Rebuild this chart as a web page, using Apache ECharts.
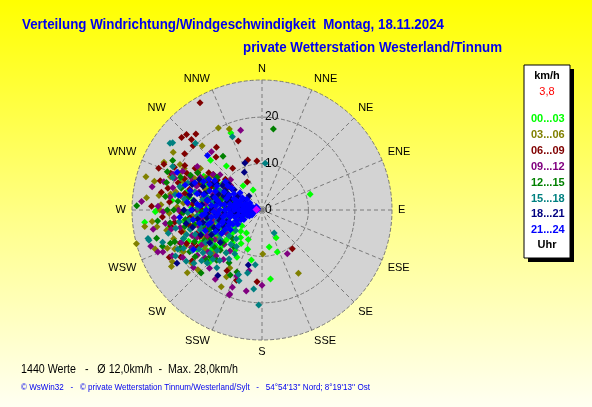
<!DOCTYPE html>
<html><head><meta charset="utf-8">
<script src="https://cdn.jsdelivr.net/npm/echarts@6/dist/echarts.min.js"></script>
<style>html,body{margin:0;padding:0;background:#ffff80}#c{width:592px;height:407px}</style>
</head><body><div id="c"></div>
<script>
// ---- data ----
const dirLabels = ['N','NNE','NE','ENE','E','ESE','SE','SSE','S','SSW','SW','WSW','W','WNW','NW','NNW'];
const timeGroups = ['00...03','03...06','06...09','09...12','12...15','15...18','18...21','21...24'];
const radiusMax = 28;
const radiusStep = 10;
const currentSpeed = '3,8';
const infoLine = '1440 Werte   -   \u00D8 12,0km/h  -  Max. 28,0km/h';
// each point: [speed km/h, direction deg]
const h00_03 = [[17.9,338],[4.7,336],[22.6,270],[25.4,264],[23,269],[19.3,243],[15.5,226],[16.1,225],[11,192],[8.1,169],[9.6,160],[15,173],[6.7,153],[10.9,72],[6.6,322],[15.4,314],[12.2,321],
 [8,262],[9,255],[10,250],[11,245],[12,258],[13,252],[14,248],[7,270],[6,265],[10,266],[12,272],[14,262],[16,255],[15,242],[9,240],[11,235],[13,238],[8,248],[6,255],[5,275],[7,285],[9,292],[11,280],[13,285],[15,278],[17,262],[18,250],[10,230],[12,228],[7,240],[5,260],[4,268],[16,268],[14,232],[12,220],[8,232],[6,245],[10,275],[13,295],[11,300],
 [5.5,232],[6.5,225],[7.5,218],[8.5,212],[9.5,222],[10.5,214],[11.5,208],[7,205],[9,200],[6,214],[8,238],[9.5,246],[11.3,241],[12.6,233],[13.7,244],[14.8,236],[16.4,239],[17.2,247],[12.4,263],[13.6,268],[15.2,272],[9.2,258],[10.7,255],[7.8,252],[4.5,248],[3.5,258],[5.8,282],[8.4,296],[10.2,304],[12.8,306],[14.5,300],[18.5,290],[19.5,276],[20.5,259],[16.8,283]];
const h03_06 = [[20,332],[18.8,338],[18.9,317],[22.8,303],[20.2,299],[22.4,278],[21.8,273],[28,255],[22.9,261],[23,238],[18.9,225],[16.3,208],[14.3,209],[15.7,150],[9.5,179],[18.7,208],[18.9,227],[19.2,242],
 [14,300],[16,295],[18,290],[19,282],[17,275],[15,285],[13,290],[20,268],[18,262],[16,250],[14,245],[12,250],[20,252],[22,248],[17,242],[15,235],[13,262],[11,270],[10,285],[12,305],[16,304],[19,298],[21,290],[24,285],[20,280],[13,278],[15,265],[18,245],[21,258],[9,260],[11,255],[14,228],
 [17.5,288],[19.5,294],[23.5,296],[22,270],[23.8,264],[25,276],[19.8,259],[17.6,255],[15.8,258],[13.5,255],[12,262],[10.5,276],[9.6,289],[11.4,296],[13.2,302],[18.3,272],[16.4,281],[20.6,246],[22.3,240],[19,233],[16.7,230],[14.5,238],[12.8,243],[11.5,237],[21,230],[24.5,250],[25.5,262],[26,286]];
const h06_09 = [[26.7,330],[21.7,319],[23.3,312],[23,315],[21.5,315],[20.3,313],[16.7,324],[15.7,341],[20.6,306],[23.3,295],[15.1,319],[11,325],[11.2,344],[10.6,354],[22.4,243],[15.1,210],[16.1,200],[15.5,184],[10.6,142],[6.8,332],
 [14,305],[16,300],[18,296],[12,295],[19,288],[17,282],[15,275],[13,270],[20,275],[22,280],[10,290],[11,280],[14,262],[16,258],[18,255],[20,260],[12,255],[10,265],[8,275],[9,300],[13,306],[21,296],[15,250],[19,248],[13,244],[16,240],[24,292],
 [17,302],[19.2,300],[21.2,292],[22.8,286],[18,292],[16.2,286],[14.8,292],[13.1,298],[11.6,304],[10.3,310],[20.8,283],[23.8,272],[21.5,266],[19,262],[17.4,268],[15.6,264],[13.8,258],[12.3,250],[17.8,246],[20.2,240],[18.6,234],[16.3,244],[14.6,247],[9.7,283],[7.2,290],[8.6,308]];
const h09_12 = [[17.8,345],[16.6,319],[8.7,308],[24.2,282],[26,274],[21.3,269],[23.2,247],[24.2,248],[19.9,239],[15.2,201],[19.4,201],[17.8,201],[16.2,180],[17.8,191],[10.9,150],[13.4,192],[19.6,201],
 [10,270],[12,265],[14,270],[16,275],[18,270],[20,278],[13,282],[11,288],[9,280],[15,290],[17,295],[19,296],[12,300],[10,305],[14,255],[16,250],[18,258],[11,250],[13,245],[15,240],[17,235],[12,238],[9,245],[8,260],[7,272],[19,265],[21,262],[14,225],[16,230],[11,228],[20,290],[13,306],[15,298],[8,290],[6,280],
 [22,286],[20.7,292],[16.8,304],[11.8,310],[9.4,314],[22.4,272],[20,258],[18.7,248],[21.7,243],[17.2,242],[15.4,247],[13.3,262],[11.6,266],[9.8,262],[8.4,266],[10.8,258],[12.9,252],[14.7,232],[16.9,222],[13.5,218],[11.2,218],[19.3,230],[18,214],[7.6,250],[9.1,236],[12.2,276],[14.1,286],[16.2,292],[17.8,280],[19.8,284],[23.8,260],[25.2,252]];
const h12_15 = [[17.6,8],[22,299],[14.3,324],[27,272],[23.5,255],[22.8,250],[22,292],[14.4,202],[18.9,224],
 [10,278],[12,282],[14,275],[16,280],[18,285],[13,268],[15,262],[17,258],[11,262],[9,270],[12,250],[14,242],[16,245],[18,240],[20,250],[10,240],[13,232],[15,228],[11,295],[14,295],[16,300],[19,270],[21,278],[8,250],[9,285],[12,306],[17,268],[13,255],[20,262],
 [9.5,262],[10.8,270],[12.2,290],[13.6,300],[17.1,296],[18.9,292],[21.4,286],[22.6,264],[21,250],[19.4,245],[17.6,235],[16.2,228],[14.6,222],[12.5,226],[11,230],[9,243],[7.4,258],[8.2,276],[10.3,285],[6.6,268],[12.7,240],[14.8,258],[16.6,263],[18.2,276],[20.4,270],[11.6,253],[10,218],[8.8,226],[13.4,212],[15.6,206]];
const h15_18 = [[24.1,307],[24.5,306],[20.3,315],[17,338],[21.4,296],[10.1,4],[25.2,255],[25.3,256],[20.5,182],[17.1,186],[16,198],[15.8,218],[14.8,200],[13.9,193],[11.9,187],[5.6,152],
 [8,255],[10,248],[12,245],[14,240],[16,238],[11,235],[13,228],[15,225],[17,230],[9,232],[7,245],[12,258],[14,252],[16,255],[18,250],[10,262],[12,270],[14,265],[16,268],[18,262],[20,245],[11,275],[13,280],[15,285],[17,290],[19,280],[9,270],[8,285],[10,295],[6,260],[12,220],[10,222],[19,258],
 [10.5,240],[11.8,244],[13.2,236],[14.5,230],[15.7,234],[17.4,240],[18.8,244],[19.7,236],[21.1,242],[22.5,252],[20.8,256],[18.6,232],[16.4,226],[14.2,220],[12.7,214],[11.1,212],[9.6,215],[8.3,222],[7.2,232],[6.4,240],[5.6,250],[8.7,242],[9.9,256],[11.6,262],[13.4,256],[15.3,250],[17.1,252],[15.8,262],[13.9,272],[12.3,284],[10.7,280],[16.9,278],[18.4,286],[20.5,290],[14.9,296]];
const h18_21 = [[10.8,340],[9,335],[4.1,317],[17,214],[21.6,238],[12.2,194],
 [4,270],[5,278],[6,285],[7,290],[8,295],[9,298],[10,290],[11,285],[12,280],[13,275],[6,262],[7,258],[8,252],[9,248],[10,265],[11,270],[12,262],[5,255],[4,285],[3,290],[6,300],[8,305],[10,302],[14,285],[15,270],[13,258],[11,250],[9,260],[7,275],[14,262],[16,290],[12,298],[10,240],[15,296],
 [5.5,264],[6.6,272],[7.7,283],[8.8,290],[9.9,280],[10.8,274],[11.9,266],[12.8,286],[13.7,292],[14.8,278],[15.9,282],[16.8,270],[11.3,300],[9.2,308],[7.4,306],[6.2,294],[5.1,290],[4.2,300],[8.1,266],[9.4,256],[10.6,246],[12.1,244],[13.3,238],[11.4,232],[14.2,248],[15.4,256],[16.6,260],[3.6,276],[4.8,262]];
const h21_24 = [[1,270],[1.5,262],[2,275],[2.5,282],[3,268],[3,258],[3.5,290],[4,275],[4,262],[4.5,252],[5,268],[5,285],[5.5,278],[6,270],[6,255],[6.5,292],[7,265],[7,280],[7.5,250],[8,270],[8,288],[8.5,260],[9,278],[9,295],[9.5,265],[10,275],[10,250],[10.5,285],[11,262],[11,298],[12,270],[12,255],[13,285],[13,265],[2,250],[3,300],[4,305],[5,245],[6,240],[7,300],[8,245],[9,305],[10,240],[11,245],[12,290],[14,275],[15,262],[3,280],[5,295],[7,258],[9,252],[11,275],[2,285],[4,290],[6,282],[8,262],[10,262],[12,280],[1,290],[2,265],[3,245],[14,296],[16,285],[20,294],[16.6,315],[17,240],[13,250],
 [1.8,278],[2.2,258],[2.8,292],[3.2,272],[3.8,264],[4.2,282],[4.8,270],[5.2,258],[5.8,290],[6.2,276],[6.8,262],[7.2,272],[7.8,294],[8.2,278],[8.8,254],[9.2,270],[9.8,282],[10.4,268],[10.8,292],[11.4,256],[11.8,280],[12.4,266],[12.6,296],[13.4,274],[13.8,258],[14.4,284],[15.2,270],[15.6,292],[16.2,276],[17.4,288],[18.2,280],[6,248],[7,244],[8,238],[9,242],[5,302],[6,308],[8,306],[10,308],[12,302],[1.4,300],[2.4,244],[3.4,250],[4.4,242],[13.2,300],[17.8,265]];
const currentPoint = [[1.2,275]];

const groupData = [h00_03,h03_06,h06_09,h09_12,h12_15,h15_18,h18_21,h21_24];
const groupColors = ['#00ff00','#808000','#800000','#800080','#008000','#008080','#000080','#0000ff'];

// ---- helpers ----
const mctx = document.createElement('canvas').getContext('2d');
function fit(text, font, w){ mctx.font = font; return w / mctx.measureText(text).width; }
const FF = '"Liberation Sans", Arial, sans-serif';
function txt(text, x, y, font, fill, w, align){
  return {type:'text', x:x, y:y, z:10, scaleX: w ? fit(text, font, w) : 1,
    style:{text:text, font:font, fill:fill, textAlign:align||'left', align:align||'left', textVerticalAlign:'middle', verticalAlign:'middle'}};
}
const CX = 262, CY = 210, R = 130;

const chart = echarts.init(document.getElementById('c'), null, {renderer:'canvas'});
const series = groupData.map((d,i)=>({
  name: timeGroups[i], type:'scatter', coordinateSystem:'polar', data:d, z:3,
  symbol:'diamond', symbolSize:7, itemStyle:{color:groupColors[i], opacity:1}, silent:true
}));
series.push({name:'aktuell', type:'scatter', coordinateSystem:'polar', data:currentPoint, z:3,
  symbol:'diamond', symbolSize:8, itemStyle:{color:'#ff00ff'}, silent:true});

chart.setOption({
  animation:false,
  graphic:[
    {type:'rect', z:-10, shape:{x:0,y:0,width:592,height:407},
      style:{fill:new echarts.graphic.LinearGradient(0,0,0,1,[{offset:0,color:'#ffff00'},{offset:0.55,color:'#ffff8c'},{offset:1,color:'#fffff2'}])}},
    {type:'circle', z:-5, shape:{cx:CX, cy:CY, r:R}, style:{fill:'#d3d3d3'}},
    {type:'rect', z:1, shape:{x:528,y:69,width:46,height:193}, style:{fill:'#000'}},
    {type:'rect', z:2, shape:{x:524,y:65,width:46,height:193}, style:{fill:'#fff', stroke:'#000', lineWidth:1}},
    txt('Verteilung Windrichtung/Windgeschwindigkeit  Montag, 18.11.2024', 22, 25, 'bold 14px '+FF, '#0000ee', 422),
    txt('private Wetterstation Westerland/Tinnum', 243, 48, 'bold 14px '+FF, '#0000ee', 259),
    txt(infoLine, 21, 370, '12px '+FF, '#000', 217),
    txt('\u00A9 WsWin32   -   \u00A9 private Wetterstation Tinnum/Westerland/Sylt   -   54\u00B054\'13\'\' Nord; 8\u00B019\'13\'\' Ost', 21, 388, '9px '+FF, '#0000ee', 349),
    txt('km/h', 547, 76, 'bold 11px '+FF, '#000', 0, 'center'),
    txt(currentSpeed, 547, 92, '11px '+FF, '#ff0000', 0, 'center'),
    txt('Uhr', 547, 245, 'bold 11px '+FF, '#000', 0, 'center')
  ],
  legend:{
    orient:'vertical', left:521, top:107, itemGap:3.4, itemWidth:0, itemHeight:14,
    icon:'none', selectedMode:false, z:10,
    data: timeGroups.map((n,i)=>({name:n, icon:'none', textStyle:{color:groupColors[i], fontWeight:'bold', fontSize:11, fontFamily:FF}})),
    textStyle:{fontWeight:'bold', fontSize:11, fontFamily:FF}
  },
  polar:{center:[CX,CY], radius:R},
  angleAxis:{
    type:'value', min:0, max:360, interval:22.5, startAngle:90, clockwise:true,
    axisLine:{show:false}, axisTick:{show:false},
    axisLabel:{show:true, margin:6, color:'#000', fontSize:11, fontFamily:FF,
      formatter:v=> v>=359 ? '' : dirLabels[Math.round(v/22.5)%16]},
    splitLine:{show:true, lineStyle:{color:'#7a7a7a', type:[4,3], width:1}},
    splitArea:{show:false}
  },
  radiusAxis:{
    type:'value', min:0, max:radiusMax, interval:radiusStep,
    axisLine:{show:false}, axisTick:{show:false},
    axisLabel:{show:true, color:'#000', fontSize:12, fontFamily:FF, margin:-3, align:'left', verticalAlign:'middle',
      formatter:v=> v>=radiusMax ? '' : String(v)},
    splitLine:{show:true, showMaxLine:false, lineStyle:{color:'#7a7a7a', type:'dashed', width:1}}
  },
  series:series
});
</script></body></html>
